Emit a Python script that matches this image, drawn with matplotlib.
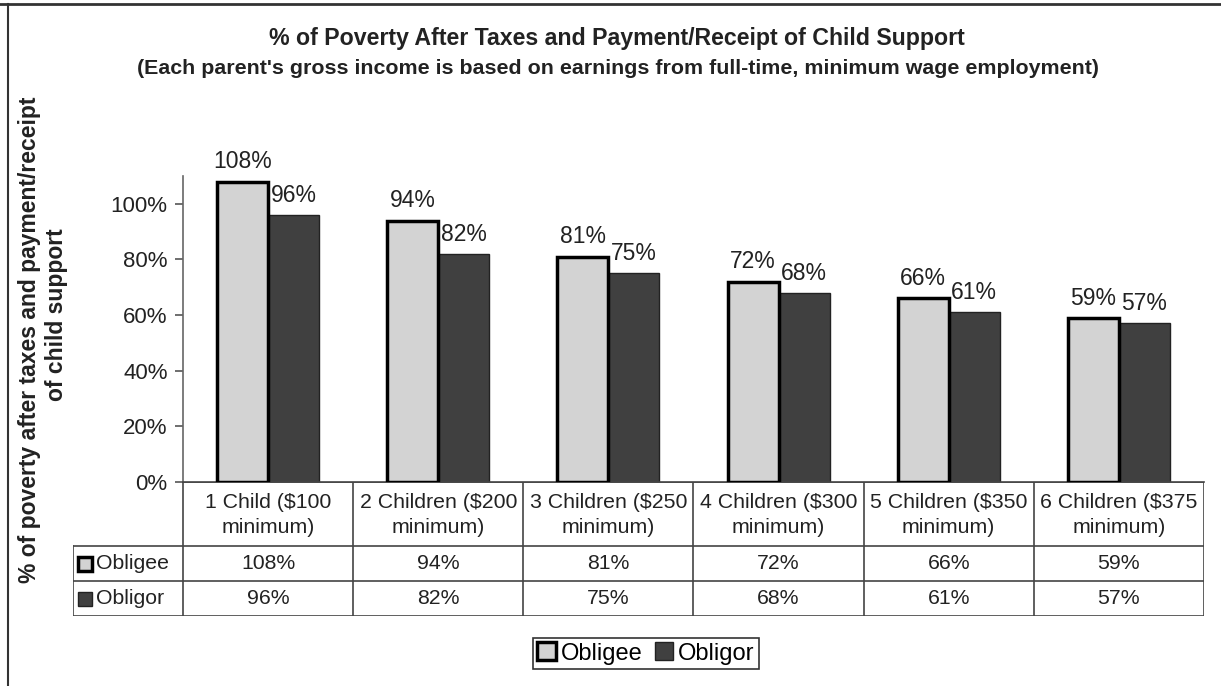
import matplotlib
matplotlib.use("Agg")
import matplotlib.pyplot as plt
from matplotlib.patches import Rectangle
from matplotlib.lines import Line2D
import numpy as np

plt.rcParams['font.family'] = ['Liberation Sans', 'DejaVu Sans']

#chart data
categories = ["1 Child ($100\nminimum)", "2 Children ($200\nminimum)", "3 Children ($250\nminimum)",
              "4 Children ($300\nminimum)", "5 Children ($350\nminimum)", "6 Children ($375\nminimum)"]
obligee = [108, 94, 81, 72, 66, 59]
obligor = [96, 82, 75, 68, 61, 57]
series_names = ["Obligee", "Obligor"]
yticks = [0, 20, 40, 60, 80, 100]

W, H = 1221, 686
fig = plt.figure(figsize=(W / 100, H / 100), dpi=100)

def px(x0, y0, x1, y1):
    #pixel box (from top-left) -> figure fraction rect
    return [x0 / W, 1 - y1 / H, (x1 - x0) / W, (y1 - y0) / H]

light = "#d3d3d3"
dark = "#404040"
txt = "#222222"

ax = fig.add_axes(px(183, 176, 1204, 482))
x = np.arange(len(categories))
bw = 0.3
b1 = ax.bar(x - bw / 2, obligee, bw, color=light, edgecolor="black", linewidth=2.5, zorder=3)
b2 = ax.bar(x + bw / 2, obligor, bw, color=dark, edgecolor="#222222", linewidth=1.0, zorder=2)
ax.bar_label(b1, labels=[f"{v}%" for v in obligee], padding=6, fontsize=16.5, color=txt)
ax.bar_label(b2, labels=[f"{v}%" for v in obligor], padding=6, fontsize=16.5, color=txt)

ax.set_xlim(-0.5, len(categories) - 0.5)
ax.set_ylim(0, 110)
ax.set_yticks(yticks)
ax.set_yticklabels([f"{t}%" for t in yticks], fontsize=16, color=txt)
ax.tick_params(axis="y", direction="out", length=6, width=1.2, color="#555555", pad=5)
ax.set_xticks([])
for s in ["top", "right"]:
    ax.spines[s].set_visible(False)
ax.spines["left"].set_color("#666666")
ax.spines["left"].set_linewidth(1.2)
ax.spines["bottom"].set_color("#444444")
ax.spines["bottom"].set_linewidth(1.2)

#data table under the axis
lab_w = 110 / 170.17
tab = fig.add_axes(px(73, 482, 1204, 616))
tab.set_xlim(-0.5 - lab_w, len(categories) - 0.5)
tab.set_ylim(0, 134)
tab.axis("off")
lc = "#444444"
lw = 1.2
edges = np.arange(len(categories) + 1) - 0.5
left = -0.5 - lab_w
#horizontal lines
tab.plot([-0.5, edges[-1]], [134, 134], color=lc, lw=lw)
tab.plot([left, edges[-1]], [70, 70], color=lc, lw=lw)
tab.plot([left, edges[-1]], [35, 35], color=lc, lw=lw)
tab.plot([left, edges[-1]], [0, 0], color=lc, lw=lw)
for e in edges:
    tab.plot([e, e], [0, 134], color=lc, lw=lw)
tab.plot([left, left], [0, 70], color=lc, lw=lw)

for i, c in enumerate(categories):
    tab.text(i, 101, c, ha="center", va="center", fontsize=15.3, color=txt, linespacing=1.4)
    tab.text(i, 52.5, f"{obligee[i]}%", ha="center", va="center", fontsize=15.3, color=txt)
    tab.text(i, 17.5, f"{obligor[i]}%", ha="center", va="center", fontsize=15.3, color=txt)

kx = left + 5 / 170.17
kw = 14 / 170.17
tab.add_patch(Rectangle((kx, 52.5 - 7), kw, 14, facecolor=light, edgecolor="black", lw=2.5))
tab.add_patch(Rectangle((kx, 17.5 - 7), kw, 14, facecolor=dark, edgecolor="#222222", lw=1))
tab.text(kx + kw + 4 / 170.17, 52.5, series_names[0], ha="left", va="center", fontsize=15.3, color=txt)
tab.text(kx + kw + 4 / 170.17, 17.5, series_names[1], ha="left", va="center", fontsize=15.3, color=txt)

#titles
fig.text(617 / W, 1 - 38 / H, "% of Poverty After Taxes and Payment/Receipt of Child Support",
         ha="center", va="center", fontsize=16.7, fontweight="bold", color=txt)
fig.text(618 / W, 1 - 68 / H, "(Each parent's gross income is based on earnings from full-time, minimum wage employment)",
         ha="center", va="center", fontsize=15.4, fontweight="bold", color=txt)

#y axis title
fig.text(30 / W, 1 - 340 / H, "% of poverty after taxes and payment/receipt", rotation=90,
         ha="center", va="center", fontsize=16.5, fontweight="bold", color=txt)
fig.text(57 / W, 1 - 315 / H, "of child support", rotation=90,
         ha="center", va="center", fontsize=16.5, fontweight="bold", color=txt)

#legend
leg = fig.legend([b1, b2], series_names, loc="center", bbox_to_anchor=(646 / W, 1 - 653.5 / H),
                 ncol=2, fontsize=17, frameon=True, fancybox=False, edgecolor="black",
                 borderpad=0.2, handlelength=0.8, handleheight=0.8, handletextpad=0.2,
                 columnspacing=0.5, borderaxespad=0)
leg.get_frame().set_linewidth(1.2)

#chart border (top and left visible)
fig.add_artist(Line2D([0, 1], [1 - 4 / H, 1 - 4 / H], color="#333333", lw=2, transform=fig.transFigure))
fig.add_artist(Line2D([8 / W, 8 / W], [0, 1 - 4 / H], color="#333333", lw=1.5, transform=fig.transFigure))

fig.savefig("out.png", dpi=100, facecolor="white")
